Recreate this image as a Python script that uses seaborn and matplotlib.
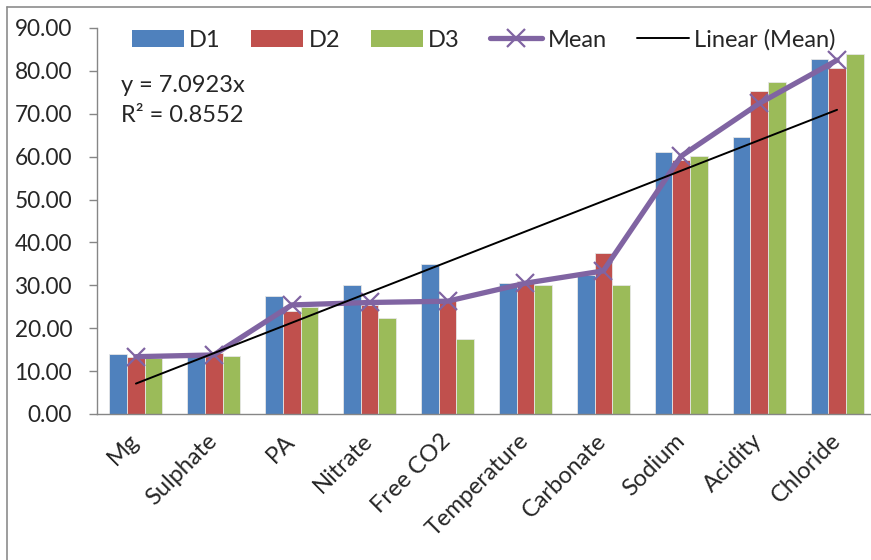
import numpy as np
import pandas as pd
import matplotlib
matplotlib.use("Agg")
import matplotlib.pyplot as plt
from matplotlib.lines import Line2D
from matplotlib.patches import Patch
import seaborn as sns

categories = ["Mg", "Sulphate", "PA", "Nitrate", "Free CO2", "Temperature",
              "Carbonate", "Sodium", "Acidity", "Chloride"]
d1 = [13.9, 13.5, 27.4, 30.1, 35.0, 30.5, 32.4, 61.0, 64.6, 82.8]
d2 = [13.2, 14.2, 23.9, 25.4, 26.4, 30.9, 37.6, 59.2, 75.2, 80.7]
d3 = [13.0, 13.6, 25.0, 22.5, 17.5, 30.1, 30.1, 60.2, 77.4, 84.0]
series_names = ["D1", "D2", "D3"]
trend_slope = 7.0923
trend_r2 = 0.8552
yticks = [0, 10, 20, 30, 40, 50, 60, 70, 80, 90]

mean = np.mean([d1, d2, d3], axis=0)

colors = ["#4F81BD", "#C0504D", "#9BBB59"]
mean_color = "#8064A2"
gray = "#868686"

sns.set_theme(style="white")
plt.rcParams["font.family"] = ["Lato", "DejaVu Sans"]
FS = 16.3
FS_X = 17
FS_LEG = 17

W, H = 871, 560
fig = plt.figure(figsize=(W / 100, H / 100), dpi=100)
ax_left, ax_right, ax_top, ax_bottom = 97, 876, 28, 414
ax = fig.add_axes([ax_left / W, 1 - ax_bottom / H,
                   (ax_right - ax_left) / W, (ax_bottom - ax_top) / H])

df = pd.DataFrame({
    "Parameter": categories * 3,
    "Value": d1 + d2 + d3,
    "Series": sum([[s] * len(categories) for s in series_names], []),
})

sns.barplot(data=df, x="Parameter", y="Value", hue="Series", order=categories,
            hue_order=series_names, palette=colors, saturation=1, width=0.68,
            edgecolor="#e6e6e6", linewidth=0.6, ax=ax, legend=False, errorbar=None)

pos = np.arange(len(categories))
sns.lineplot(x=pos, y=mean, ax=ax, color=mean_color, linewidth=3.8,
             marker="x", markersize=13, markeredgewidth=1.6,
             markeredgecolor=mean_color, zorder=5)
ax.plot(pos, trend_slope * (pos + 1), color="black", linewidth=1.4, zorder=6)

ax.set_xlim(-0.5, 9.5)
ax.set_ylim(0, 90)
ax.set_yticks(yticks)
ax.set_yticklabels([f"{v:.2f}" for v in yticks], fontsize=FS)
ax.set_xlabel("")
ax.set_ylabel("")
ax.set_xticks(pos)
ax.set_xticklabels(categories, fontsize=FS_X, rotation=45, ha="right",
                   va="center", rotation_mode="anchor")
ax.set_xticks(np.arange(-0.5, 10, 1), minor=True)
ax.tick_params(axis="x", which="major", length=0, pad=17)
ax.tick_params(axis="x", which="minor", length=6, width=1, color=gray, direction="out")
ax.tick_params(axis="y", length=6, width=1, color=gray, direction="out", pad=12,
               left=True)
for s in ["top", "right"]:
    ax.spines[s].set_visible(False)
for s in ["left", "bottom"]:
    ax.spines[s].set_color(gray)
    ax.spines[s].set_linewidth(1)
ax.grid(False)

# equation text
ax.text(121 / W, 1 - 85 / H, f"y = {trend_slope}x", transform=fig.transFigure,
        fontsize=FS_LEG, va="center", ha="left")
ax.text(121 / W, 1 - 116 / H, f"R² = {trend_r2}", transform=fig.transFigure,
        fontsize=FS_LEG, va="center", ha="left")

handles = [Patch(facecolor=c, edgecolor="none") for c in colors]
handles.append(Line2D([], [], color=mean_color, linewidth=3.8, marker="x",
                      markersize=13, markeredgewidth=1.6))
handles.append(Line2D([], [], color="black", linewidth=1.4))
labels = series_names + ["Mean", "Linear (Mean)"]
fig.legend(handles, labels, loc="upper left", bbox_to_anchor=(132 / W, 1 - 29 / H),
           ncol=5, frameon=False, fontsize=FS_LEG, handlelength=2.2,
           handletextpad=0.22, columnspacing=1.3, borderpad=0, borderaxespad=0)

# chart area border (top and left visible)
fig.add_artist(Line2D([7 / W, 1], [1 - 7 / H, 1 - 7 / H], transform=fig.transFigure,
                      color="#8c8c8c", linewidth=1.2))
fig.add_artist(Line2D([7 / W, 7 / W], [1 - 7 / H, 0], transform=fig.transFigure,
                      color="#8c8c8c", linewidth=1.2))

fig.savefig("out.png", dpi=100)
